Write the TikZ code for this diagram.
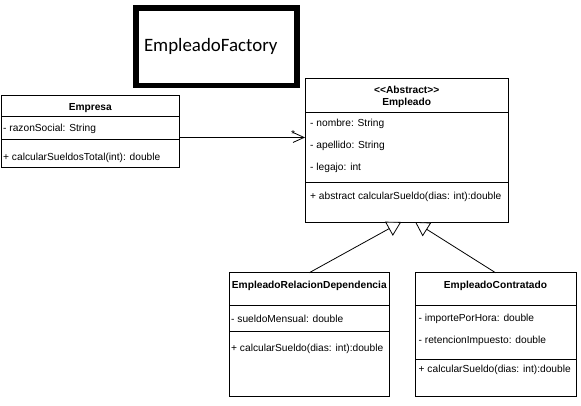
\documentclass[tikz,border=0pt]{standalone}
\usepackage{fontspec}
\setmainfont{Liberation Sans}
\newfontfamily\calibrifont{Carlito}
\usetikzlibrary{arrows.meta, positioning, calc}

\tikzset{
  umlbox/.style={draw=black, line width=0.8pt, fill=white, anchor=north west, inner sep=0pt, outer sep=0pt},
  umltitle/.style={anchor=base, inner sep=0pt, font=\fontsize{10.2}{12}\selectfont\bfseries},
  umltext/.style={anchor=base west, inner sep=0pt, font=\fontsize{10.2}{12}\selectfont},
  divider/.style={draw=black, line width=0.8pt},
  factorybox/.style={draw=black, line width=5.7pt, fill=white, text width=145.2pt, align=left, inner xsep=7.8pt, inner ysep=0pt, font=\calibrifont\fontsize{18.9}{22}\selectfont},
  assoc/.style={draw=black, line width=0.8pt, -{Straight Barb[length=11pt, width=10pt]}},
  inherit/.style={draw=black, line width=0.8pt, -{Triangle[open, length=14pt, width=16pt, fill=white]}},
  mult/.style={anchor=base, inner sep=0pt, font=\fontsize{10.2}{12}\selectfont}
}

\begin{document}
\begin{tikzpicture}[x=1pt, y=-1pt]
  \useasboundingbox (0,0) rectangle (581,405);

  % factory
  \node[factorybox, minimum width=160.8pt, minimum height=77.5pt] (factory) at (216.6,46.75) {EmpleadoFactory};

  % Empresa
  \node[umlbox, minimum width=177.3pt, minimum height=72.3pt] (empresa) at (1.7,95) {};
  \draw[divider] (empresa.west |- 0,116.7) -- (empresa.east |- 0,116.7);
  \draw[divider] (empresa.west |- 0,139) -- (empresa.east |- 0,139);
  \node[umltitle] (empresaname) at (90.3,110.7) {Empresa};
  \node[umltext] (razonsocial) at (3,131.9) {- razonSocial: String};
  \node[umltext] (calcempresa) at (3,160.7) {+ calcularSueldosTotal(int): double};

  % Empleado (abstract)
  \node[umlbox, minimum width=203.3pt, minimum height=144pt] (empleado) at (305,78) {};
  \draw[divider] (empleado.west |- 0,112) -- (empleado.east |- 0,112);
  \draw[divider] (empleado.west |- 0,182) -- (empleado.east |- 0,182);
  \node[umltitle] (stereotype) at (406.7,93.7) {<\kern0pt<Abstract>\kern0pt>};
  \node[umltitle] (empleadoname) at (406.7,105.7) {Empleado};
  \node[umltext] (nombre) at (310,126.7) {- nombre: String};
  \node[umltext] (apellido) at (310,148.7) {- apellido: String};
  \node[umltext] (legajo) at (310,170.7) {- legajo: int};
  \node[umltext] (calcabstract) at (310,199.7) {+ abstract calcularSueldo(dias: int):double};

  % EmpleadoRelacionDependencia
  \node[umlbox, minimum width=160pt, minimum height=124pt] (relacion) at (229.3,272.7) {};
  \draw[divider] (relacion.west |- 0,305) -- (relacion.east |- 0,305);
  \draw[divider] (relacion.west |- 0,331) -- (relacion.east |- 0,331);
  \node[umltitle] (relacionname) at (309.3,288.7) {EmpleadoRelacionDependencia};
  \node[umltext] (sueldomensual) at (231,322) {- sueldoMensual: double};
  \node[umltext] (calcrelacion) at (231,351) {+ calcularSueldo(dias: int):double};

  % EmpleadoContratado
  \node[umlbox, minimum width=161pt, minimum height=124pt] (contratado) at (415,272.7) {};
  \draw[divider] (contratado.west |- 0,305) -- (contratado.east |- 0,305);
  \draw[divider] (contratado.west |- 0,359) -- (contratado.east |- 0,359);
  \node[umltitle] (contratadoname) at (495.5,288.7) {EmpleadoContratado};
  \node[umltext] (importe) at (418.5,321.7) {- importePorHora: double};
  \node[umltext] (retencion) at (418.5,343.7) {- retencionImpuesto: double};
  \node[umltext] (calccontratado) at (418.5,372.7) {+ calcularSueldo(dias: int):double};

  % association
  \coordinate (assocstart) at ([yshift=-6.3pt]empresa.east);
  \coordinate (assocend) at (assocstart -| empleado.west);
  \draw[assoc] (assocstart) -- (assocend);
  \node[mult] (many) at ([xshift=-12pt]assocend) {*};

  % inheritance
  \draw[inherit] (relacion.north) -- ([xshift=-5.5pt]empleado.south);
  \draw[inherit] (contratado.north) -- ([xshift=8.5pt]empleado.south);
\end{tikzpicture}
\end{document}
